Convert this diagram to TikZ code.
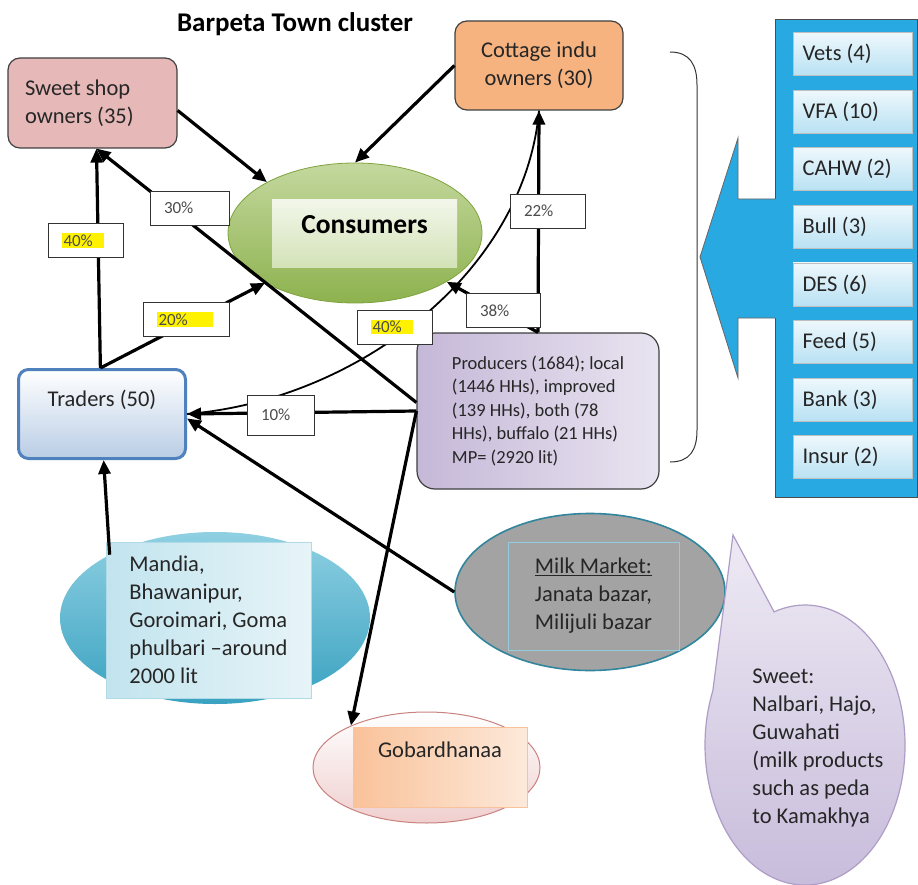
\documentclass[tikz,border=0pt]{standalone}
\usepackage{fontspec}
\setmainfont{Carlito}
\usetikzlibrary{arrows.meta,shapes.geometric}

\definecolor{pinkbox}{HTML}{E6B9B8}
\definecolor{peach}{HTML}{F6B380}
\definecolor{consgreen}{HTML}{8DB24E}
\definecolor{conslight}{HTML}{C4D89E}
\definecolor{consedge}{HTML}{7FA33D}
\definecolor{consin}{HTML}{D3E2B6}
\definecolor{tradblue}{HTML}{4F81BD}
\definecolor{tradfill}{HTML}{B9CDE5}
\definecolor{prodpurple}{HTML}{C5B8D8}
\definecolor{prodlight}{HTML}{E9E4F0}
\definecolor{panelblue}{HTML}{29A9E1}
\definecolor{svctop}{HTML}{EEF8FC}
\definecolor{svcbot}{HTML}{B9E1F3}
\definecolor{mandialight}{HTML}{8FD0E2}
\definecolor{mandiadark}{HTML}{3AA2C1}
\definecolor{mandiain}{HTML}{C2E4EE}
\definecolor{milkgray}{HTML}{A3A3A3}
\definecolor{milkedge}{HTML}{31859C}
\definecolor{milkin}{HTML}{93CDDD}
\definecolor{gobpink}{HTML}{EFCFCE}
\definecolor{gobedge}{HTML}{C9827F}
\definecolor{gobin}{HTML}{F9C29A}
\definecolor{gobinlight}{HTML}{FDE9DA}
\definecolor{bubpurple}{HTML}{C6BADA}
\definecolor{bublight}{HTML}{EEEAF4}
\definecolor{bubedge}{HTML}{AE9DC6}
\definecolor{hlyellow}{HTML}{FFF200}

\newcommand{\hlt}[2][10pt]{{\setlength{\fboxsep}{1.5pt}\colorbox{hlyellow}{#2\hspace{#1}}}}

\begin{document}
\begin{tikzpicture}
  [x=1pt,y=-1pt,
   every node/.style={font=\fontsize{22.5}{28}\selectfont,text=black!85,inner sep=0pt},
   card/.style={rectangle,rounded corners=12pt,draw=black!75,line width=1.2pt},
   oval/.style={ellipse,inner sep=0pt},
   flat/.style={rectangle},
   pct/.style={draw=black!80,fill=white,line width=0.9pt,inner xsep=14pt,align=flush left,
     text width=#1,minimum height=34pt,font=\fontsize{17}{20}\selectfont,text=black!70},
   flow/.style={line width=3.2pt,-{Triangle[length=14pt,width=12pt]}}]

  \useasboundingbox (0,0) rectangle (918,885);
  \fill [white] (0,0) rectangle (918,885);

  \node [font=\fontsize{27}{32}\selectfont\bfseries,text=black] (title) at (295,24) {Barpeta Town cluster};

  \node [card,fill=pinkbox,minimum width=169pt,minimum height=90pt,align=flush left,text width=135pt] (sweet) at (92.5,103) {Sweet shop\\owners (35)};
  \node [card,fill=peach,minimum width=168pt,minimum height=89pt,align=center] (cottage) at (539,65.5) {Cottage indu\\owners (30)};
  \node [oval,draw=consedge,line width=0.8pt,top color=conslight,bottom color=consgreen,minimum width=254pt,minimum height=140pt] (cons) at (355,233) {};
  \node [flat,top color=white!70!consin,bottom color=consin,minimum width=185pt,minimum height=68pt,text depth=20pt,
    font=\fontsize{27.5}{32}\selectfont\bfseries,text=black] (consin) at (364.5,234) {Consumers};
  \node [card,draw=tradblue,line width=3pt,rounded corners=10pt,top color=white,bottom color=tradfill,
    minimum width=167pt,minimum height=89pt,text depth=31pt] (trad) at (102,414) {Traders (50)};
  \node [card,left color=prodpurple,right color=prodlight,rounded corners=18pt,minimum width=242pt,minimum height=156pt,
    align=left,font=\fontsize{18.5}{23.5}\selectfont] (prod) at (538,411)
    {Producers (1684); local\\(1446 HHs), improved\\(139 HHs), both (78\\HHs), buffalo (21 HHs)\\MP= (2920 lit)};

  \draw [black!80,line width=1pt] (670,52) .. controls (690,52) and (697,65) .. (697,85) -- (697,430)
    .. controls (697,450) and (690,462) .. (670,462);

  \node [flat,fill=panelblue,draw=black!70,line width=1pt,minimum width=142pt,minimum height=477pt] (panel) at (846,258.5) {};
  \fill [panelblue] (777,199) -- (738,199) -- (738,138) -- (700,257) -- (738,378) -- (738,318) -- (777,318) -- cycle;
  \draw [black!60,line width=0.8pt] (775,199) -- (738,199) -- (738,138) -- (700,257) -- (738,378) -- (738,318) -- (775,318);
  \foreach \lbl [count=\i] in {Vets (4),VFA (10),CAHW (2),Bull (3),DES (6),Feed (5),Bank (3),Insur (2)}
    \node [flat,top color=svctop,bottom color=svcbot,draw=black!25,line width=0.5pt,text width=100pt,inner xsep=9.5pt,
      minimum height=43pt,align=flush left] (svc\i) at (852.5,{54+(\i-1)*57.6}) {\lbl};

  \node [oval,top color=mandialight,bottom color=mandiadark,minimum width=310pt,minimum height=172pt] (mandia) at (215,618) {};
  \node [flat,left color=mandiain,right color=white!60!mandiain,draw=white!60!mandiadark,line width=0.6pt,
    minimum width=205pt,minimum height=156pt,align=left] (mandiain) at (208.5,620)
    {Mandia,\\Bhawanipur,\\Goroimari, Goma\\phulbari \textendash around\\2000 lit};
  \node [oval,fill=milkgray,draw=milkedge,line width=1.6pt,minimum width=270pt,minimum height=157pt] (milk) at (590,592) {};
  \node [flat,fill=milkgray,draw=milkin,line width=1pt,minimum width=171pt,minimum height=108pt,align=left] (milkin) at (593.5,596)
    {\underline{Milk Market:}\\Janata bazar,\\Milijuli bazar};
  \node [oval,top color=white,bottom color=gobpink,draw=gobedge,line width=1pt,minimum width=227pt,minimum height=111pt] (gob) at (426.5,767.5) {};
  \node [flat,left color=gobin,right color=gobinlight,draw=gobin,line width=0.6pt,minimum width=174pt,minimum height=80pt,text depth=35pt] (gobin) at (440,767) {Gobardhanaa};

  \path [top color=bublight,bottom color=bubpurple,draw=bubedge,line width=1.2pt]
    (774.1,611.9) arc [start angle=252,end angle=562.8,x radius=100,y radius=140] -- (733,535) -- cycle;
  \node [align=left] (bubtxt) at (818,748.5) {Sweet:\\Nalbari, Hajo,\\Guwahati\\(milk products\\such as peda\\to Kamakhya};

  \foreach \from/\to in {sweet.-5/cons.150,cottage.west/cons.north,trad.92/sweet.-85,trad.92/cons.-151,prod.176/sweet.-85,
      prod.west/trad.east,prod.north/cons.-28,prod.north/cottage.south,prod.west/gob.151,milk.west/trad.-3,mandia.149/trad.-88}
    \draw [flow] (\from) -- (\to);
  \draw [line width=1.8pt] (trad.east) .. controls (360,400) and (525,270) .. (cottage.south);

  \node [pct=47pt] (p40a) at (85.5,240.5) {\hlt{40\%}};
  \node [pct=51pt] (p30) at (189.5,208) {30\%};
  \node [pct=58pt] (p20) at (186,319.5) {\hlt[24pt]{20\%}};
  \node [pct=47pt] (p40b) at (394.5,327) {\hlt{40\%}};
  \node [pct=39pt,minimum height=40pt] (p10) at (280.5,415) {10\%};
  \node [pct=46pt] (p38) at (503,310.5) {38\%};
  \node [pct=47pt] (p22) at (547.5,211) {22\%};

\end{tikzpicture}
\end{document}
